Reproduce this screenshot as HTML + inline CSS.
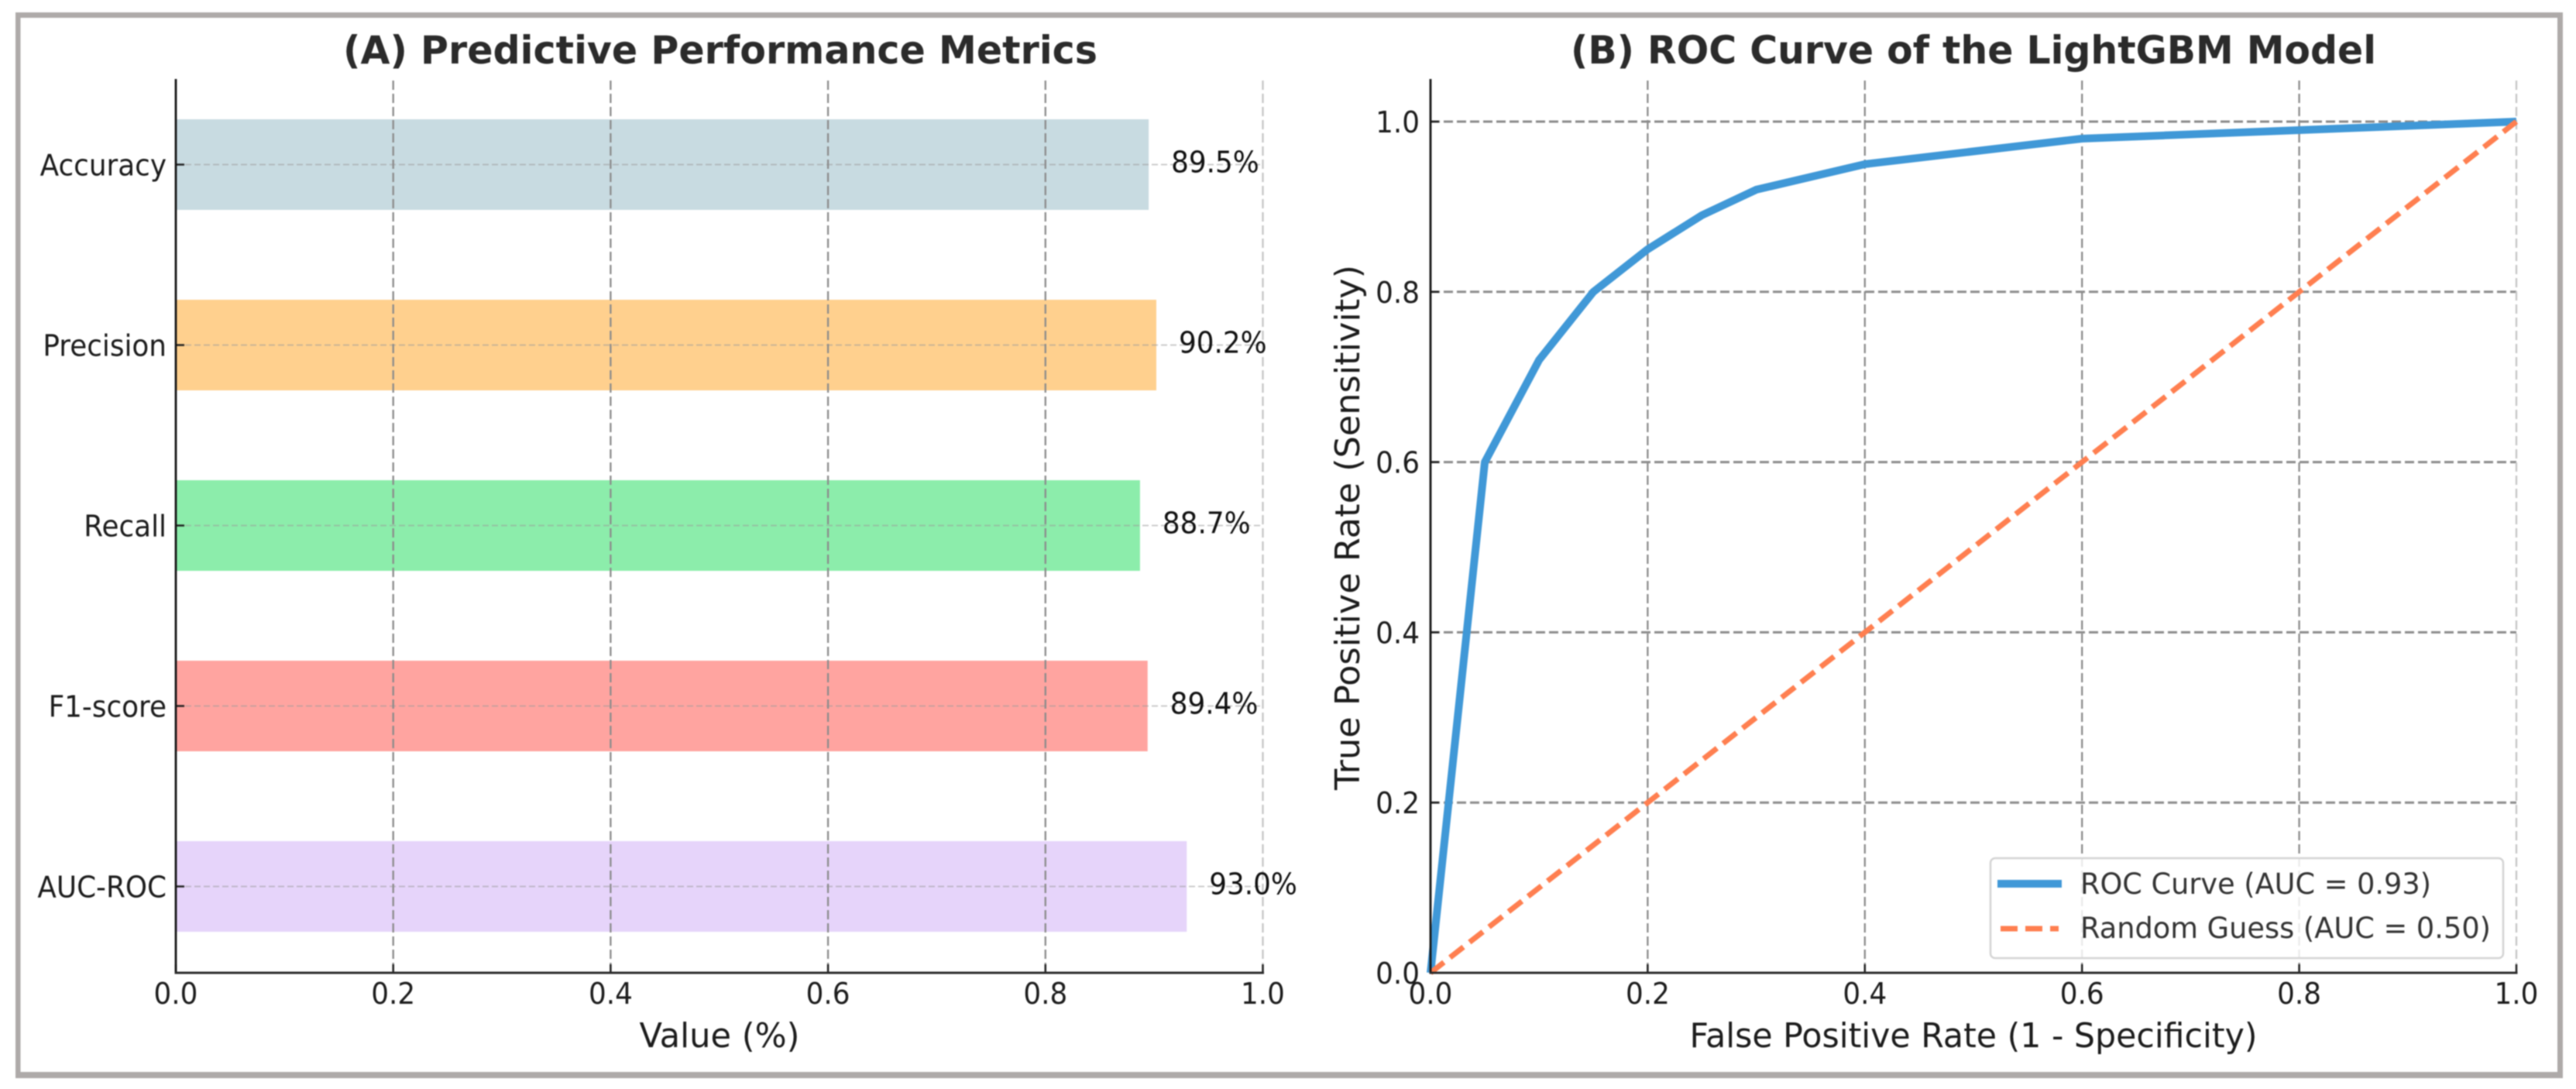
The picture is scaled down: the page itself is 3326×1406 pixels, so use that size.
<!DOCTYPE html>
<html lang="en">
<head>
<meta charset="utf-8">
<title>LightGBM Model Performance</title>
<style>
  html, body { margin: 0; padding: 0; background: #fff; width: 3326px; height: 1406px; overflow: hidden; }
  svg { display: block; filter: blur(0.7px); }
  text { font-family: "DejaVu Sans", "Liberation Sans", sans-serif; fill: #1c1c1c; }
  .title { font-size: 50px; font-weight: 700; fill: #2b2b2b; }
  .axis-label { font-size: 44px; }
  .tick { font-size: 38.5px; }
  .value { font-size: 38.5px; fill: #111; }
  .legend-text { font-size: 37.5px; fill: #333; }
</style>
</head>
<body>
<svg id="figure" xmlns="http://www.w3.org/2000/svg" width="3326" height="1406" viewBox="0 0 3326 1406">
  <rect x="0" y="0" width="3326" height="1406" fill="#ffffff"/>
  <rect x="20" y="16" width="3289" height="1376" fill="#aeaaa9"/>
  <rect x="26.5" y="23" width="3275.5" height="1361" fill="#ffffff"/>

  <text class="title" x="930" y="82" text-anchor="middle" textLength="974" lengthAdjust="spacingAndGlyphs">(A) Predictive Performance Metrics</text>
  <text class="title" x="2548" y="82" text-anchor="middle" textLength="1040" lengthAdjust="spacingAndGlyphs">(B) ROC Curve of the LightGBM Model</text>

  <g id="panel-a"></g>
  <g id="panel-b"></g>

  <text class="axis-label" x="929" y="1352" text-anchor="middle" textLength="207" lengthAdjust="spacingAndGlyphs">Value (%)</text>
  <text class="axis-label" x="2548" y="1352" text-anchor="middle" textLength="733" lengthAdjust="spacingAndGlyphs">False Positive Rate (1 - Specificity)</text>
  <text class="axis-label" transform="translate(1755,681) rotate(-90)" text-anchor="middle" textLength="678" lengthAdjust="spacingAndGlyphs">True Positive Rate (Sensitivity)</text>

  <g id="legend">
    <rect x="2570" y="1108" width="662" height="129" rx="6" ry="6" fill="#ffffff" fill-opacity="0.82" stroke="#d4d4d4" stroke-width="2.5"/>
    <line x1="2579" y1="1141" x2="2662" y2="1141" stroke="#4098d7" stroke-width="10"/>
    <line x1="2583" y1="1199" x2="2658" y2="1199" stroke="#ff7f50" stroke-width="7" stroke-dasharray="22 10"/>
    <text class="legend-text" x="2686" y="1154" textLength="453" lengthAdjust="spacingAndGlyphs">ROC Curve (AUC = 0.93)</text>
    <text class="legend-text" x="2686" y="1211" textLength="530" lengthAdjust="spacingAndGlyphs">Random Guess (AUC = 0.50)</text>
  </g>
</svg>
<script>
const categories = ['Accuracy', 'Precision', 'Recall', 'F1-score', 'AUC-ROC'];
const metricValues = [0.895, 0.902, 0.887, 0.894, 0.93];
const metricTicks = [0, 0.2, 0.4, 0.6, 0.8, 1];
const metricTickLabels = ['0.0', '0.2', '0.4', '0.6', '0.8', '1.0'];
const barPalette = ['#c8dbe1', '#ffd08e', '#8cedab', '#ffa4a0', '#e6d4fa'];

const fprValues = [0, 0.05, 0.1, 0.15, 0.2, 0.25, 0.3, 0.4, 0.6, 0.8, 1];
const tprValues = [0, 0.6, 0.72, 0.8, 0.85, 0.89, 0.92, 0.95, 0.98, 0.99, 1];
const randomFpr = [0, 1];
const randomTpr = [0, 1];
const rocTicks = [0, 0.2, 0.4, 0.6, 0.8, 1];
const rocTickLabels = ['0.0', '0.2', '0.4', '0.6', '0.8', '1.0'];

const NS = 'http://www.w3.org/2000/svg';
const TEXT_SQUEEZE = 0.93;
function make(parent, tag, attrs, content) {
  const node = document.createElementNS(NS, tag);
  for (const key in attrs) node.setAttribute(key, attrs[key]);
  if (content !== undefined) node.textContent = content;
  parent.appendChild(node);
  return node;
}
function place(x, y) {
  return 'translate(' + x + ',' + y + ') scale(' + TEXT_SQUEEZE + ',1)';
}

const panelA = document.getElementById('panel-a');
const panelB = document.getElementById('panel-b');
const AXIS_BOTTOM = 1256;
const AXIS_TOP = 102;

/* ---------- Panel A scales ---------- */
const xA = v => 227 + v * 1403.5;
const yBand = i => 212.5 + i * 233;
const BAR_HEIGHT = 117;

categories.forEach((name, i) => {
  const bar = make(panelA, 'rect', { x: xA(0), y: yBand(i) - BAR_HEIGHT / 2, width: xA(metricValues[i]) - xA(0), height: BAR_HEIGHT, fill: barPalette[i] });
  
  
});

categories.forEach((name, i) => {
  const grid = make(panelA, 'line', { x1: xA(0), x2: xA(1), y1: yBand(i), y2: yBand(i), stroke: '#9a9a9a', 'stroke-opacity': 0.5, 'stroke-width': 2, 'stroke-dasharray': '8 4' });
  
  
});

metricTicks.forEach((t, i) => {
  const last = i === metricTicks.length - 1;
  if (i > 0) {
    const grid = make(panelA, 'line', { x1: xA(t), x2: xA(t), y1: AXIS_TOP + 2, y2: AXIS_BOTTOM, stroke: last ? '#c6c6c6' : '#8c8c8c', 'stroke-width': 2.3, 'stroke-dasharray': '12 5' });
    
    
  }
  const tick = make(panelA, 'line', { x1: xA(t), x2: xA(t), y1: AXIS_BOTTOM, y2: AXIS_BOTTOM - 11, stroke: '#222', 'stroke-width': 2.5 });
  
  
  const label = make(panelA, 'text', { class: 'tick', transform: place(xA(t), 1296), 'text-anchor': 'middle' }, metricTickLabels[i]);
  
  
});

categories.forEach((name, i) => {
  const tick = make(panelA, 'line', { x1: xA(0), x2: xA(0) + 11, y1: yBand(i), y2: yBand(i), stroke: '#222', 'stroke-width': 2.5 });
  
  
  const label = make(panelA, 'text', { class: 'tick', transform: place(215, yBand(i) + 14), 'text-anchor': 'end' }, name);
  
  
  const value = make(panelA, 'text', { class: 'value', transform: place(xA(metricValues[i]) + 29, yBand(i) + 10) }, (metricValues[i] * 100).toFixed(1) + '%');
  
  
});

const spineLeftA = make(panelA, 'line', { x1: xA(0), x2: xA(0), y1: AXIS_TOP, y2: AXIS_BOTTOM + 1.5, stroke: '#161616', 'stroke-width': 2.8 });


const spineBottomA = make(panelA, 'line', { x1: xA(0) - 1.4, x2: xA(1) + 1.5, y1: AXIS_BOTTOM, y2: AXIS_BOTTOM, stroke: '#2c2c2c', 'stroke-width': 3 });



/* ---------- Panel B scales ---------- */
const xB = v => 1847 + v * 1402;
const yB = v => AXIS_BOTTOM - v * 1099;

rocTicks.forEach((t, i) => {
  const last = i === rocTicks.length - 1;
  if (i > 0) {
    const gridV = make(panelB, 'line', { x1: xB(t), x2: xB(t), y1: AXIS_TOP + 2, y2: AXIS_BOTTOM, stroke: last ? '#c6c6c6' : '#8c8c8c', 'stroke-width': 2.3, 'stroke-dasharray': '12 5' });
    
    
    const gridH = make(panelB, 'line', { x1: xB(0), x2: xB(1), y1: yB(t), y2: yB(t), stroke: '#8c8c8c', 'stroke-width': 3, 'stroke-dasharray': '12 5' });
    
    
  }
});

const rocPoints = fprValues.map((f, i) => xB(f) + ',' + yB(tprValues[i])).join(' ');
const rocLine = make(panelB, 'polyline', { points: rocPoints, fill: 'none', stroke: '#4098d7', 'stroke-width': 10, 'stroke-linejoin': 'round' });



const randomPoints = randomFpr.map((f, i) => xB(f) + ',' + yB(randomTpr[i])).join(' ');
const randomLine = make(panelB, 'polyline', { points: randomPoints, fill: 'none', stroke: '#ff7f50', 'stroke-width': 7, 'stroke-dasharray': '22 10' });



rocTicks.forEach((t, i) => {
  const tickX = make(panelB, 'line', { x1: xB(t), x2: xB(t), y1: AXIS_BOTTOM, y2: AXIS_BOTTOM - 11, stroke: '#222', 'stroke-width': 2.5 });
  
  
  const labelX = make(panelB, 'text', { class: 'tick', transform: place(xB(t), 1296), 'text-anchor': 'middle' }, rocTickLabels[i]);
  
  
  const tickY = make(panelB, 'line', { x1: xB(0), x2: xB(0) + 11, y1: yB(t), y2: yB(t), stroke: '#222', 'stroke-width': 2.5 });
  
  
  const labelY = make(panelB, 'text', { class: 'tick', transform: place(1833, yB(t) + 14), 'text-anchor': 'end' }, rocTickLabels[i]);
  
  
});

const spineLeftB = make(panelB, 'line', { x1: xB(0), x2: xB(0), y1: AXIS_TOP, y2: AXIS_BOTTOM + 1.5, stroke: '#161616', 'stroke-width': 2.8 });


const spineBottomB = make(panelB, 'line', { x1: xB(0) - 1.4, x2: xB(1) + 1.5, y1: AXIS_BOTTOM, y2: AXIS_BOTTOM, stroke: '#2c2c2c', 'stroke-width': 3 });


</script>
</body>
</html>
